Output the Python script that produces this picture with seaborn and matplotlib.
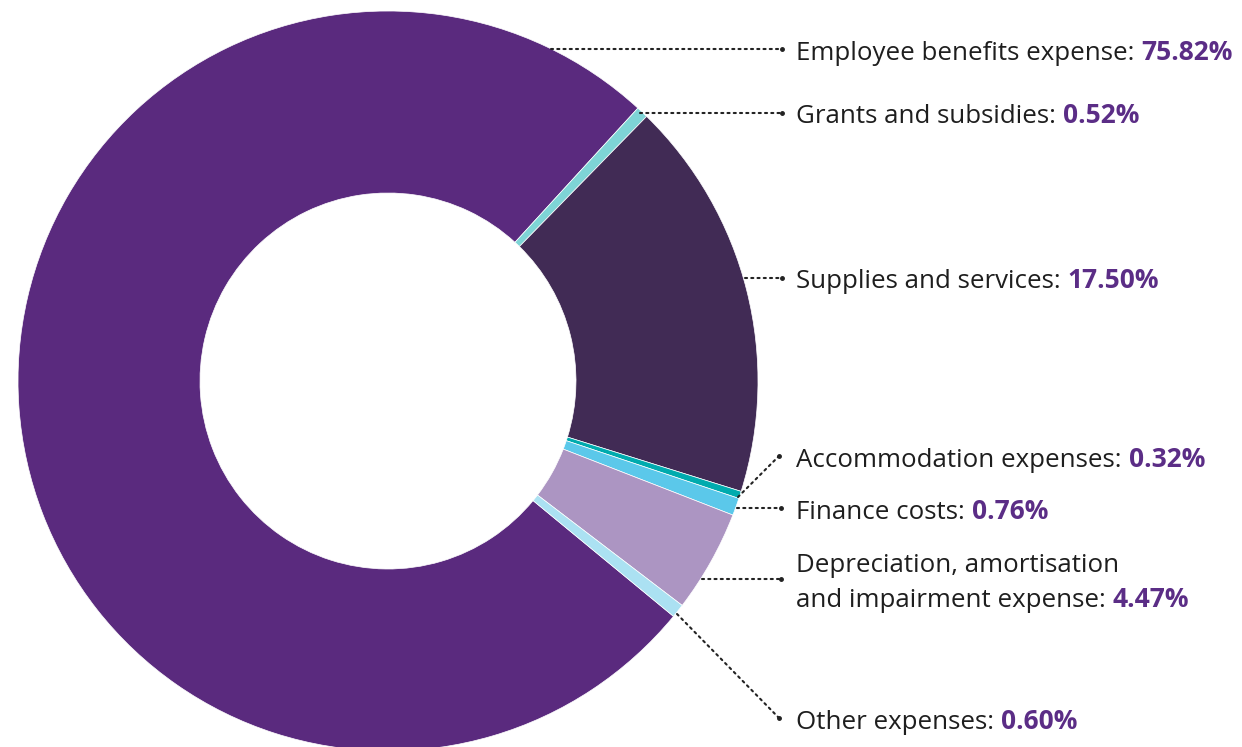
import matplotlib
matplotlib.use("Agg")
import matplotlib.pyplot as plt
import seaborn as sns

categories = [
    "Employee benefits expense",
    "Grants and subsidies",
    "Supplies and services",
    "Accommodation expenses",
    "Finance costs",
    "Depreciation, amortisation\nand impairment expense",
    "Other expenses",
]
values = [75.82, 0.52, 17.50, 0.32, 0.76, 4.47, 0.60]
pct_labels = ["75.82%", "0.52%", "17.50%", "0.32%", "0.76%", "4.47%", "0.60%"]
colors = ["#5A2A7E", "#7ED4D6", "#412B55", "#00ABAE", "#5BC8EA", "#AC95C2", "#ABE1F2"]

sns.set_theme(style="white")
plt.rcParams["font.family"] = ["Open Sans", "DejaVu Sans"]

W, H = 1242, 747
fig = plt.figure(figsize=(W / 100, H / 100), dpi=100)
ax = fig.add_axes([0, 0, 1, 1])

cx, cy = 388, H - 381
ax.pie(values, colors=colors, startangle=-39.5, counterclock=False,
       radius=370, center=(cx, cy), frame=True,
       wedgeprops=dict(width=182, edgecolor="white", linewidth=0.5))
ax.set_xlim(0, W)
ax.set_ylim(0, H)
ax.set_aspect("equal")
ax.axis("off")

# label baselines (pixel coords from top) and leader lines
text_x = 796
label_base = [60, 123, 288, 467, 519, 607, 729]
leaders = [
    [(551, 49), (782, 49)],
    [(640, 113), (782, 113)],
    [(745, 278), (782, 278)],
    [(738, 497), (779, 456)],
    [(737, 508), (781, 508)],
    [(702, 579), (781, 579)],
    [(677, 614), (779, 718)],
]
for pts in leaders:
    xs = [p[0] for p in pts]
    ys = [H - p[1] for p in pts]
    ax.plot(xs, ys, color="#222222", linestyle=(0, (1, 2)), linewidth=1.5,
            dash_capstyle="round", solid_capstyle="round")
    ax.plot([xs[1]], [ys[1]], marker="o", markersize=2.5, color="#222222")

fs = 18.6
line_h = 35
fig.canvas.draw()
renderer = fig.canvas.get_renderer()
inv = ax.transData.inverted()
for cat, pct, yb in zip(categories, pct_labels, label_base):
    lines = cat.split("\n")
    n = len(lines)
    for i, line in enumerate(lines):
        yy = yb - (n - 1 - i) * line_h
        is_last = i == n - 1
        t = ax.text(text_x, H - yy, line + (":" if is_last else ""),
                    fontsize=fs, fontweight="normal", color="#1e1e1e",
                    ha="left", va="baseline")
        if is_last:
            bb = t.get_window_extent(renderer=renderer)
            x_end = inv.transform((bb.x1, bb.y0))[0]
            ax.text(x_end + 7, H - yy, pct, fontsize=fs + 0.4, fontweight="bold",
                    color="#5B2D86", ha="left", va="baseline")

fig.savefig("out.png", dpi=100, facecolor="white")
